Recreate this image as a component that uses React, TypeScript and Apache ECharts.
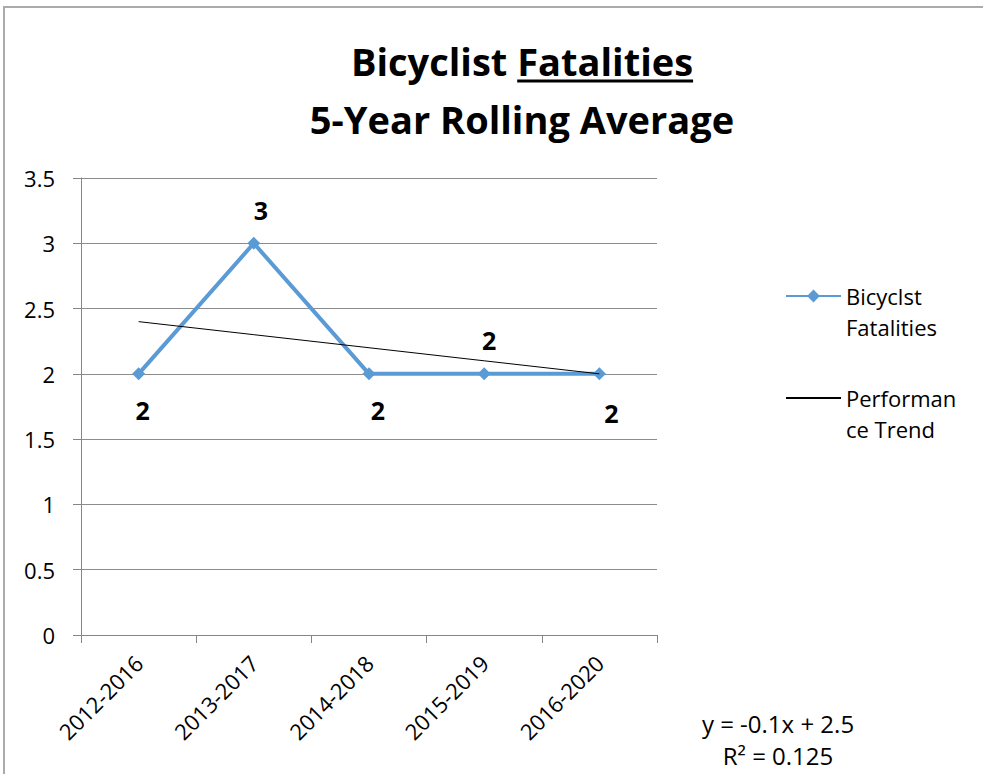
import React, { useEffect, useRef } from "react";
import * as echarts from "echarts";

const categories = ["2012-2016", "2013-2017", "2014-2018", "2015-2019", "2016-2020"];
const fatalities = [2, 3, 2, 2, 2];
const trend = [2.4, 2.3, 2.2, 2.1, 2.0];
const labelOffsets: number[][] = [
  [4, 36],
  [7, -33],
  [9, 36],
  [5, -34],
  [12, 39],
];
const yTicks = { min: 0, max: 3.5, interval: 0.5 };
const titleLines = ["Bicyclist Fatalities", "5-Year Rolling Average"];
const underlined = "Fatalities";
const seriesNames = ["Bicyclst Fatalities", "Performance Trend"];
const legendLabels = [" \nBicyclst\nFatalities", " \nPerforman\nce Trend"];
const equation = ["y = -0.1x + 2.5", "R² = 0.125"];

const FONT = "'Open Sans', 'Noto Sans', sans-serif";

export default function App() {
  const ref = useRef<HTMLDivElement>(null);
  useEffect(() => {
    document.body.style.margin = "0";
    if (!ref.current) return;
    const chart = echarts.init(ref.current, undefined, { renderer: "svg" });

    const titleSize = 38;
    const titleCenter = 522;
    const ctx = document.createElement("canvas").getContext("2d")!;
    ctx.font = `bold ${titleSize}px 'Open Sans'`;
    const full = ctx.measureText(titleLines[0]).width;
    const pre = ctx.measureText(titleLines[0].slice(0, titleLines[0].indexOf(underlined))).width;
    const word = ctx.measureText(underlined).width;
    const ux1 = titleCenter - full / 2 + pre;
    const ux2 = ux1 + word;

    const option: any = {
      animation: false,
      backgroundColor: "#fff",
      textStyle: { fontFamily: FONT },
      title: {
        text: titleLines.join("\n"),
        left: titleCenter,
        top: 32,
        padding: 0,
        textAlign: "center",
        textStyle: {
          fontFamily: FONT,
          fontWeight: "bold",
          fontSize: titleSize,
          lineHeight: 58,
          color: "#000",
        },
      },
      grid: { left: 81, top: 178, width: 576, height: 457, containLabel: false },
      legend: {
        orient: "vertical",
        left: 785,
        top: 249.5,
        padding: 0,
        itemWidth: 55,
        itemHeight: 16,
        itemGap: 9,
        data: [
          { name: seriesNames[0] },
          { name: seriesNames[1], itemStyle: { opacity: 0 } },
        ],
        formatter: (name: string) => legendLabels[seriesNames.indexOf(name)],
        textStyle: {
          fontFamily: FONT,
          fontSize: 22,
          lineHeight: 31,
          color: "#000",
        },
      },
      xAxis: {
        type: "category",
        data: categories,
        boundaryGap: true,
        axisLine: { lineStyle: { color: "#868686", width: 1 } },
        axisTick: { show: true, length: 8, alignWithLabel: false, lineStyle: { color: "#868686" } },
        axisLabel: {
          rotate: 45,
          fontSize: 22,
          color: "#000",
          fontFamily: FONT,
          margin: 24,
          interval: 0,
        },
      },
      yAxis: {
        type: "value",
        min: yTicks.min,
        max: yTicks.max,
        interval: yTicks.interval,
        axisLine: { show: true, lineStyle: { color: "#868686", width: 1 } },
        axisTick: { show: true, length: 8, lineStyle: { color: "#868686" } },
        axisLabel: { fontSize: 22, color: "#000", fontFamily: FONT, margin: 26 },
        splitLine: { show: true, lineStyle: { color: "#8c8c8c", width: 1 } },
      },
      series: [
        {
          name: seriesNames[0],
          type: "line",
          data: fatalities.map((v, i) => ({
            value: v,
            label: { offset: labelOffsets[i] },
          })),
          color: "#5b9bd5",
          lineStyle: { width: 4, color: "#5b9bd5" },
          symbol: "diamond",
          symbolSize: 13,
          itemStyle: { color: "#5b9bd5" },
          label: {
            show: true,
            position: "inside",
            fontSize: 25,
            fontWeight: "bold",
            color: "#000",
            fontFamily: FONT,
          },
          z: 2,
        },
        {
          name: seriesNames[1],
          type: "line",
          data: trend,
          color: "#000",
          lineStyle: { width: 1, color: "#000" },
          symbol: "none",
          z: 3,
        },
      ],
      graphic: [
        {
          type: "line",
          shape: { x1: 3, y1: 7, x2: 983, y2: 7 },
          style: { stroke: "#ababab", lineWidth: 2 },
          silent: true,
        },
        {
          type: "line",
          shape: { x1: 4, y1: 6, x2: 4, y2: 774 },
          style: { stroke: "#ababab", lineWidth: 2 },
          silent: true,
        },
        {
          type: "line",
          shape: { x1: ux1, y1: 81, x2: ux2, y2: 81 },
          style: { stroke: "#000", lineWidth: 3 },
          silent: true,
        },
        {
          type: "text",
          x: 778,
          y: 723,
          style: {
            text: equation[0],
            fontSize: 24,
            fontFamily: FONT,
            fill: "#000",
            align: "center",
            verticalAlign: "middle",
          },
        },
        {
          type: "text",
          x: 778,
          y: 755,
          style: {
            text: equation[1],
            fontSize: 24,
            fontFamily: FONT,
            fill: "#000",
            align: "center",
            verticalAlign: "middle",
          },
        },
      ],
    };
    chart.setOption(option);
    return () => chart.dispose();
  }, []);
  return <div ref={ref} style={{ width: 983, height: 774 }} />;
}
